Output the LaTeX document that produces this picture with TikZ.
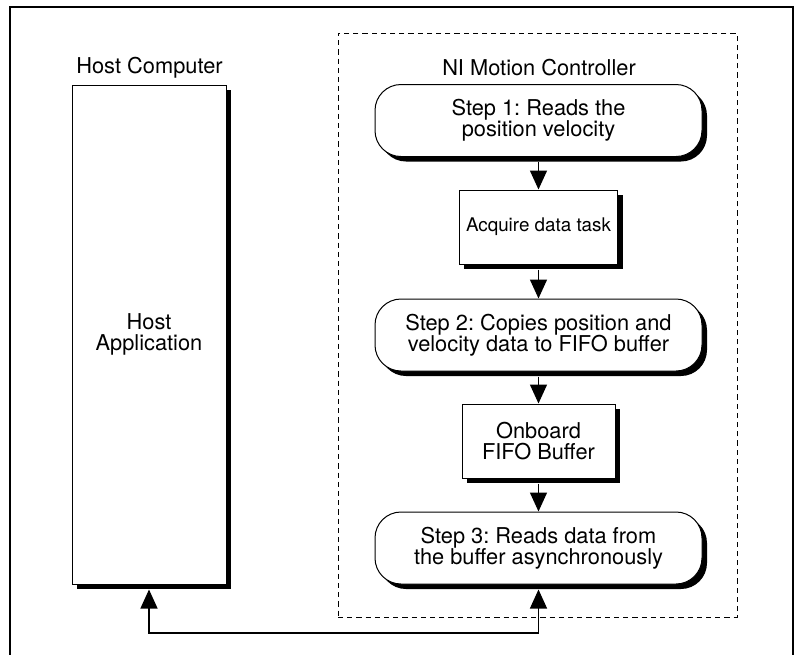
\documentclass[tikz,border=0pt]{standalone}
\usepackage{fontspec}
\setmainfont{TeX Gyre Heros}
\usepackage{tikz}
\usetikzlibrary{positioning, arrows.meta, shadows}
\frenchspacing

\begin{document}
\begin{tikzpicture}[
  x=0.5pt, y=-0.5pt,
  >={Triangle[length=9.5pt, width=8.5pt]},
  every node/.style={font=\fontsize{10.9}{10.7}\selectfont},
  boxshadow/.style={
    drop shadow={shadow xshift=2.5pt, shadow yshift=-2.5pt,
      fill=black, opacity=1}
  },
  hostbox/.style={
    draw, line width=0.5pt, fill=white, boxshadow,
    align=center, minimum width=77pt, minimum height=249.5pt
  },
  stepbox/.style={
    draw, line width=0.5pt, fill=white, boxshadow, rounded corners=13pt,
    align=center, minimum width=163.5pt, minimum height=36pt
  },
  taskbox/.style={
    draw, line width=0.5pt, fill=white, boxshadow,
    align=center, minimum width=76.5pt, minimum height=37pt
  },
  ctrlbox/.style={
    draw, line width=0.45pt, dash pattern=on 2.6pt off 2pt,
    minimum width=199.5pt, minimum height=292pt
  },
  flow/.style={->, line width=0.7pt, shorten <=2.5pt},
  bus/.style={<->, line width=0.6pt, shorten <=2.5pt, shorten >=2.5pt}
]
\useasboundingbox (0,0) rectangle (800,655);

% outer frame (bottom edge runs off the page)
\draw[line width=1pt] (10,655) -- (10,7) -- (793,7) -- (793,655);

% Left side: host computer
\node (hostlbl) at (149.5, 68) {Host Computer};
\node[hostbox] (host) at (149, 334.5) {Host\\Application};

% Right side: motion controller
\node[ctrlbox] (ctrl) at (537.5, 325) {};
\node (ctrllbl) at (539, 68) {NI Motion Controller};

\node[stepbox] (step1) at (538.5, 120.5) {Step 1: Reads the\\position velocity};
\node[taskbox, font=\fontsize{9.4}{9.4}\selectfont] (acq) at (538.5, 227)
  {Acquire data task};
\node[stepbox] (step2) at (538.5, 335)
  {Step 2: Copies position and\\velocity data to FIFO buffer};
\node[taskbox] (fifo) at (538.5, 441) {Onboard\\FIFO Buffer};
\node[stepbox] (step3) at (538.5, 548)
  {Step 3: Reads data from\\the buffer asynchronously};

% controller down-flow
\draw[flow] (step1) -- (acq);
\draw[flow] (acq)   -- (step2);
\draw[flow] (step2) -- (fifo);
\draw[flow] (fifo)  -- (step3);

% host <-> controller link along the bottom
\coordinate (busend) at (538.5, 633);
\draw[bus] (host.south) |- (busend) -- (step3.south);
\end{tikzpicture}
\end{document}
